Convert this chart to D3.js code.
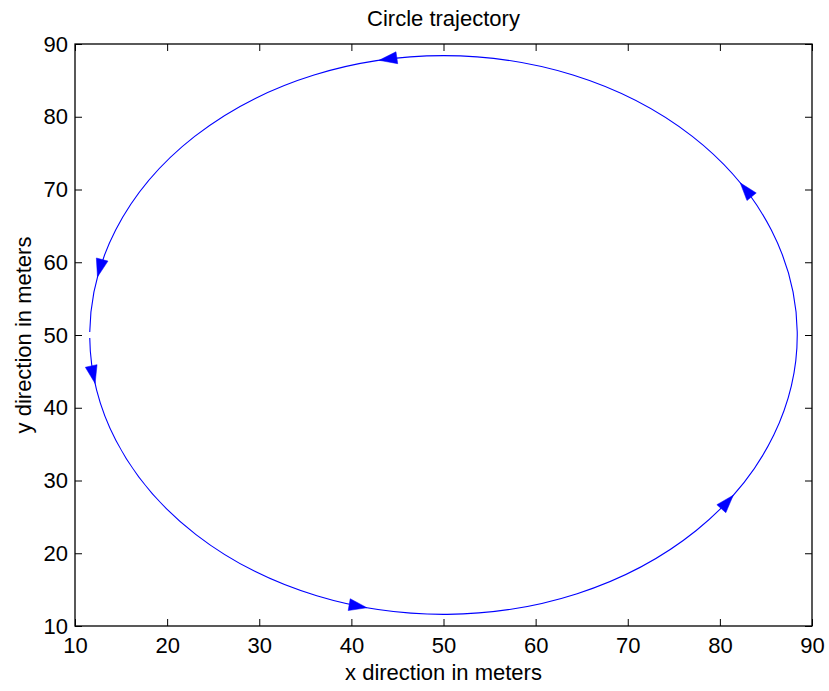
<!DOCTYPE html>
<html>
<head>
<meta charset="utf-8">
<script src="https://cdn.jsdelivr.net/npm/d3@7"></script>
<style>
  html, body { margin: 0; padding: 0; background: #fff; }
  svg { display: block; }
  text { font-family: "Liberation Sans", Arial, Helvetica, sans-serif; fill: #000; }
</style>
</head>
<body>
<svg id="chart" width="829" height="691"></svg>
<script>
// Axis ticks
const xTicks = [10, 20, 30, 40, 50, 60, 70, 80, 90];
const yTicks = [10, 20, 30, 40, 50, 60, 70, 80, 90];

// Trajectory: circle centre and radius (metres), start/end angle (degrees)
const trajCenter = [50, 50];
const trajRadius = 38.4;
const trajAngles = [180.6, 539.4];

// Angles (degrees) where direction arrows sit along the path
const arrowAngles = [190, 257.5, 325, 393, 460.5, 528];

const titleText = "Circle trajectory";
const xLabelText = "x direction in meters";
const yLabelText = "y direction in meters";

const W = 829, H = 691;
const margin = { left: 75, top: 44, right: 829 - 812, bottom: 691 - 626 };
const svg = d3.select("#chart");

const x = d3.scaleLinear().domain([10, 90]).range([margin.left, W - margin.right]);
const y = d3.scaleLinear().domain([10, 90]).range([H - margin.bottom, margin.top]);

const FS = 22;
const tickLen = 7;

// Axes with inward ticks on all four sides
function styleAxis(g) {
  g.select(".domain").remove();
  g.selectAll(".tick line").attr("stroke", "#000").attr("stroke-width", 1);
  g.selectAll(".tick text")
    .style("font-family", '"Liberation Sans", Arial, sans-serif')
    .style("font-size", FS + "px")
    .attr("fill", "#000");
}

svg.append("g")
  .attr("transform", `translate(0,${y.range()[0]})`)
  .call(d3.axisBottom(x).tickValues(xTicks).tickFormat(d3.format("d"))
    .tickSizeInner(-tickLen).tickSizeOuter(0).tickPadding(11.4))
  .call(styleAxis);

svg.append("g")
  .attr("transform", `translate(${x.range()[0]},0)`)
  .call(d3.axisLeft(y).tickValues(yTicks).tickFormat(d3.format("d"))
    .tickSizeInner(-tickLen).tickSizeOuter(0).tickPadding(7))
  .call(styleAxis);

svg.append("g")
  .attr("transform", `translate(0,${y.range()[1]})`)
  .call(d3.axisTop(x).tickValues(xTicks).tickFormat("")
    .tickSizeInner(-tickLen).tickSizeOuter(0))
  .call(styleAxis);

svg.append("g")
  .attr("transform", `translate(${x.range()[1]},0)`)
  .call(d3.axisRight(y).tickValues(yTicks).tickFormat("")
    .tickSizeInner(-tickLen).tickSizeOuter(0))
  .call(styleAxis);

// Plot box
svg.append("rect")
  .attr("x", x.range()[0]).attr("y", y.range()[1])
  .attr("width", x.range()[1] - x.range()[0])
  .attr("height", y.range()[0] - y.range()[1])
  .attr("fill", "none").attr("stroke", "#000").attr("stroke-width", 1.3);

// Trajectory drawn as elliptical arcs in pixel space (unequal x/y scales)
const [cx, cy] = trajCenter;
const rx = x(cx + trajRadius) - x(cx);
const ry = y(cy) - y(cy + trajRadius);
const rad = d => d * Math.PI / 180;
const pt = a => [x(cx + trajRadius * Math.cos(rad(a))), y(cy + trajRadius * Math.sin(rad(a)))];

function arcPath(a0, a1) {
  // split into pieces of at most 180 degrees, counter-clockwise in data space
  const pieces = [];
  let a = a0;
  while (a < a1) { const b = Math.min(a + 180, a1); pieces.push([a, b]); a = b; }
  const p0 = pt(a0);
  let s = `M${p0[0]},${p0[1]}`;
  for (const [s0, s1] of pieces) {
    const p = pt(s1);
    const large = (s1 - s0) > 180 ? 1 : 0;
    s += `A${rx},${ry} 0 ${large} 0 ${p[0]},${p[1]}`;
  }
  return s;
}

svg.append("path")
  .attr("d", arcPath(trajAngles[0], trajAngles[1]))
  .attr("fill", "none")
  .attr("stroke", "#0000ff")
  .attr("stroke-width", 1.1);

// Direction arrows: tip on the path, pointing along the direction of travel
const arrowLen = 18, arrowHalf = 6;
svg.append("g").selectAll("path")
  .data(arrowAngles)
  .join("path")
  .attr("d", a => {
    const tip = pt(a);
    const tx = x(cx - trajRadius * Math.sin(rad(a))) - x(cx);
    const ty = y(cy + trajRadius * Math.cos(rad(a))) - y(cy);
    const n = Math.hypot(tx, ty);
    const ux = tx / n, uy = ty / n;
    const bx = tip[0] - ux * arrowLen, by = tip[1] - uy * arrowLen;
    const l = [bx - uy * arrowHalf, by + ux * arrowHalf];
    const r = [bx + uy * arrowHalf, by - ux * arrowHalf];
    return `M${tip[0]},${tip[1]}L${l[0]},${l[1]}L${r[0]},${r[1]}Z`;
  })
  .attr("fill", "#0000ff")
  .attr("stroke", "#0000ff")
  .attr("stroke-width", 0.5);

// Title and axis labels
const midX = (x.range()[0] + x.range()[1]) / 2;
const midY = (y.range()[0] + y.range()[1]) / 2;

svg.append("text")
  .attr("x", midX).attr("y", 26)
  .attr("text-anchor", "middle")
  .style("font-size", FS + "px")
  .text(titleText);

svg.append("text")
  .attr("x", midX).attr("y", 680)
  .attr("text-anchor", "middle")
  .style("font-size", FS + "px")
  .text(xLabelText);

svg.append("text")
  .attr("transform", `translate(31,${midY}) rotate(-90)`)
  .attr("text-anchor", "middle")
  .style("font-size", FS + "px")
  .text(yLabelText);
</script>
</body>
</html>
